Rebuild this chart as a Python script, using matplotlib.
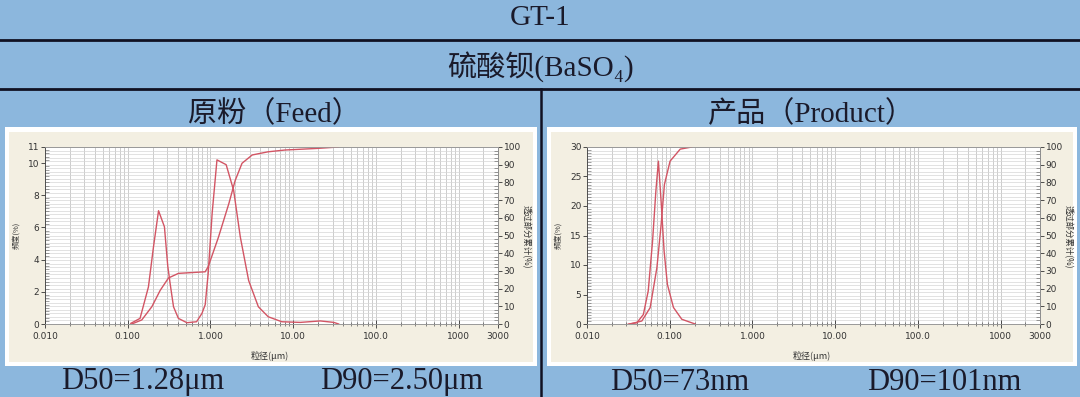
import matplotlib
matplotlib.use("Agg")
import matplotlib.pyplot as plt
from matplotlib.lines import Line2D
from matplotlib.patches import Rectangle
from matplotlib.ticker import FixedLocator, MultipleLocator, NullFormatter

# ---- data ------------------------------------------------------------------
feed_size = [0.109, 0.141, 0.178, 0.205, 0.236, 0.278, 0.305, 0.326, 0.358, 0.41,
             0.52, 0.68, 0.79, 0.865, 0.94, 1.05, 1.20, 1.55, 1.91, 2.30,
             2.90, 3.80, 5.0, 7.3, 12.2, 21.3, 31.0, 35.5]
feed_freq = [0.04, 0.35, 2.3, 4.8, 7.04, 6.04, 3.6, 2.5, 1.07, 0.35,
             0.08, 0.14, 0.66, 1.2, 3.15, 6.9, 10.2, 9.9, 8.3, 5.4,
             2.7, 1.07, 0.45, 0.14, 0.1, 0.19, 0.1, 0.0]
feed_cum_size = [0.112, 0.148, 0.196, 0.247, 0.311, 0.41, 0.865, 0.94, 1.25,
                 1.67, 1.99, 2.41, 3.2, 5.0, 8.0, 19.5, 35.5]
feed_cum = [0.0, 2.3, 9.8, 19.0, 26.0, 28.6, 29.5, 32.4, 49.0,
            68.0, 81.0, 90.8, 95.5, 97.3, 98.3, 99.2, 100]

prod_size = [0.0316, 0.040, 0.048, 0.055, 0.062, 0.068, 0.073, 0.0787, 0.0855,
             0.0938, 0.111, 0.140, 0.203]
prod_freq = [0, 0.2, 1.6, 5.6, 14, 22.5, 27.6, 20.8, 12.4, 6.7, 2.8, 0.8, 0]
prod_cum_size = [0.0332, 0.046, 0.058, 0.070, 0.0787, 0.0863, 0.101, 0.134, 0.185]
prod_cum = [0, 1.7, 9.2, 31.8, 56, 78.8, 92, 98.8, 100]

x_ticks = [0.01, 0.1, 1, 10, 100, 1000, 3000]
x_labels = ["0.010", "0.100", "1.000", "10.00", "100.0", "1000", "3000"]
feed_yticks = [0, 2, 4, 6, 8, 10, 11]
prod_yticks = [0, 5, 10, 15, 20, 25, 30]

title_main = "GT-1"
title_mat = "硫酸钡(BaSO₄)"
titles = ["原粉（Feed）", "产品（Product）"]
d50 = ["D50=1.28μm", "D50=73nm"]
d90 = ["D90=2.50μm", "D90=101nm"]

# ---- figure ----------------------------------------------------------------
W, H = 1080, 397
BG = "#8CB7DD"
CREAM = "#F3EFE2"
RED = "#D25564"
INK = "#1a1a2a"
serif = ["Liberation Serif", "Noto Sans CJK SC", "DejaVu Serif"]
small = ["Liberation Sans Narrow", "DejaVu Sans"]
cjk_small = ["Noto Sans CJK SC", "DejaVu Sans"]

fig = plt.figure(figsize=(W / 100, H / 100), dpi=100, facecolor=BG)


def fx(px):
    return px / W


def fy(py):
    return (H - py) / H


# table lines
for yy in (40, 89):
    fig.add_artist(Line2D([0, 1], [fy(yy), fy(yy)], color="#111122", lw=2.0))
fig.add_artist(Line2D([fx(541), fx(541)], [fy(89), 0], color="#111122", lw=1.8))

fig.text(0.5, fy(18), title_main, ha="center", va="center", fontsize=21,
         family=serif, color=INK)
fig.text(0.5, fy(67), title_mat, ha="center", va="center", fontsize=21,
         family=serif, color=INK)

panels = [(5, 537, 45, 498, feed_yticks, 0.2, 11),
          (547, 1077, 587, 1040, prod_yticks, 0.5, 30)]
series = [(feed_size, feed_freq, feed_cum_size, feed_cum),
          (prod_size, prod_freq, prod_cum_size, prod_cum)]
title_x = [274, 811]
dpos = [(143, 402), (680, 944)]

for i, (p0, p1, a0, a1, yt, ymin, ymax) in enumerate(panels):
    fig.add_artist(Rectangle((fx(p0), fy(366)), fx(p1 - p0), (366 - 127) / H,
                             transform=fig.transFigure, fc="white", ec="none",
                             zorder=-10))
    fig.add_artist(Rectangle((fx(p0 + 4), fy(362)), fx(p1 - p0 - 8), (362 - 132) / H,
                             transform=fig.transFigure, fc=CREAM, ec="none",
                             zorder=-9))
    fig.text(fx(title_x[i]), fy(114), titles[i], ha="center", va="center",
             fontsize=21, family=serif, color=INK)
    fig.text(fx(dpos[i][0]), fy(382), d50[i], ha="center", va="center",
             fontsize=22, family=serif, color=INK)
    fig.text(fx(dpos[i][1]), fy(382), d90[i], ha="center", va="center",
             fontsize=22, family=serif, color=INK)

    ax = fig.add_axes([fx(a0), fy(324), fx(a1 - a0), (324 - 147) / H])
    ax2 = ax.twinx()
    ax.set_zorder(ax2.get_zorder() + 1)
    ax.patch.set_visible(False)
    ax2.patch.set_visible(True)
    ax2.patch.set_facecolor("white")

    sz, fr, csz, cm = series[i]
    ax.plot(sz, fr, color=RED, lw=1.0)
    ax2.plot(csz, cm, color=RED, lw=1.0, zorder=3)

    ax.set_xscale("log")
    ax.set_xlim(0.01, 3000)
    ax.set_ylim(0, ymax)
    ax2.set_ylim(0, 100)

    ax.xaxis.set_major_locator(FixedLocator(x_ticks))
    ax.set_xticklabels(x_labels)
    minors = [m * 10.0 ** e for e in range(-2, 4) for m in range(1, 10)]
    minors = [v for v in minors if v <= 3000]
    ax.xaxis.set_minor_locator(FixedLocator(minors))
    ax.xaxis.set_minor_formatter(NullFormatter())
    ax2.set_xlim(0.01, 3000)

    # grid lives on ax2 so it sits beneath both curves
    for v in minors:
        ax2.axvline(v, color="#C4C4C4", lw=0.6, zorder=1)
    ax2.yaxis.set_major_locator(MultipleLocator(10))
    ax2.yaxis.set_minor_locator(MultipleLocator(2))
    ax2.grid(True, which="both", axis="y", color="#D6D6D6", lw=0.5, zorder=1)

    ax.set_yticks(yt)
    ax.yaxis.set_minor_locator(MultipleLocator(ymin))

    ax.tick_params(axis="y", which="major", direction="out", length=3, width=0.6,
                   labelsize=6.5, pad=1, colors="#333333")
    ax.tick_params(axis="y", which="minor", direction="in", length=3, width=0.4,
                   colors="#555555")
    ax2.tick_params(axis="y", which="major", direction="out", length=3, width=0.6,
                    labelsize=6.5, pad=1, colors="#333333")
    ax2.tick_params(axis="y", which="minor", direction="in", length=3, width=0.4,
                    colors="#555555")
    ax.tick_params(axis="x", which="major", direction="inout", length=6, width=0.6,
                   labelsize=6.5, pad=3, colors="#333333")
    ax.tick_params(axis="x", which="minor", direction="inout", length=3, width=0.5,
                   colors="#555555")
    for lab in ax.get_xticklabels() + ax.get_yticklabels() + ax2.get_yticklabels():
        lab.set_family(small)

    for a in (ax, ax2):
        for s in a.spines.values():
            s.set_color("#999999")
            s.set_linewidth(0.6)
    ax.spines["left"].set_color("#444444")
    ax2.spines["right"].set_color("#444444")

    fig.text(fx(a0 - 29), fy(235), "频度(%)", rotation=90, ha="center", va="center",
             fontsize=5.5, family=cjk_small, color="#333333")
    fig.text(fx(a1 + 28), fy(237), "透过部分累计(%)", rotation=270, ha="center",
             va="center", fontsize=6, family=cjk_small, color="#333333")
    fig.text(fx((a0 + a1) / 2 - 2), fy(356), "粒径(μm)", ha="center", va="center",
             fontsize=6.5, family=cjk_small, color="#333333")

fig.savefig("out.png", dpi=100, facecolor=BG)
